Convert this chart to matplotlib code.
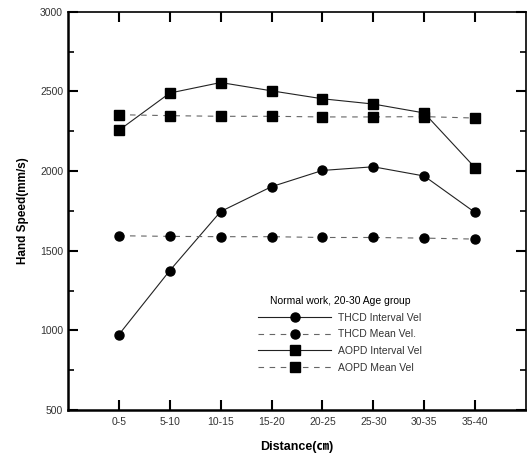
import matplotlib
matplotlib.use('Agg')
import matplotlib.pyplot as plt
import matplotlib.ticker as mtick
import numpy as np

plt.rcParams['font.family'] = ['Liberation Sans', 'Noto Sans CJK KR', 'DejaVu Sans']

distance = ['0-5', '5-10', '10-15', '15-20', '20-25', '25-30', '30-35', '35-40']
thcd_interval = [973, 1375, 1746, 1902, 2004, 2027, 1969, 1740]
thcd_mean = [1594, 1590, 1588, 1588, 1583, 1583, 1579, 1573]
aopd_interval = [2256, 2490, 2556, 2504, 2454, 2421, 2365, 2021]
aopd_mean = [2354, 2348, 2344, 2344, 2340, 2340, 2342, 2333]

x = np.arange(len(distance))

fig = plt.figure(figsize=(5.27, 4.55), dpi=100)
ax = fig.add_axes([0.129, 0.099, 0.869, 0.875])

ax.plot(x, thcd_interval, color='#222222', lw=0.8, ls='-', marker='o', ms=6.5,
        mfc='black', mec='black', label='THCD Interval Vel')
ax.plot(x, thcd_mean, color='#666666', lw=0.8, ls=(0, (5, 5)), marker='o', ms=6.5,
        mfc='black', mec='black', label='THCD Mean Vel.')
ax.plot(x, aopd_interval, color='#222222', lw=0.8, ls='-', marker='s', ms=6.5,
        mfc='black', mec='black', label='AOPD Interval Vel')
ax.plot(x, aopd_mean, color='#666666', lw=0.8, ls=(0, (5, 5)), marker='s', ms=6.5,
        mfc='black', mec='black', label='AOPD Mean Vel')

ax.set_xlim(-1, 8)
ax.set_ylim(500, 3000)
ax.set_xticks(x)
ax.set_xticklabels(distance)
ax.set_yticks(np.arange(500, 3001, 500))
ax.yaxis.set_minor_locator(mtick.MultipleLocator(250))
ax.tick_params(axis='both', which='major', direction='in', length=7, width=1.5,
               labelsize=7.5, labelcolor='#333333', top=True, right=True)
ax.tick_params(axis='y', which='minor', direction='in', length=4, width=1.2, right=True)
ax.tick_params(axis='x', which='major', pad=5)

for side in ['left', 'bottom']:
    ax.spines[side].set_linewidth(1.8)
ax.spines['top'].set_linewidth(1.2)
ax.spines['right'].set_linewidth(1.2)

ax.set_xlabel('Distance(㎝)', fontsize=9, fontweight='bold', labelpad=10)
ax.set_ylabel('Hand Speed(mm/s)', fontsize=8.5, fontweight='bold', labelpad=8)

leg = ax.legend(loc='upper left', bbox_to_anchor=(0.40, 0.305), frameon=False,
                fontsize=7.5, title='Normal work, 20-30 Age group', title_fontsize=7.5,
                handlelength=7, handletextpad=0.6, labelspacing=0.65, borderpad=0.2)
for t in leg.get_texts():
    t.set_color('#333333')

fig.savefig('out.png', dpi=100)
